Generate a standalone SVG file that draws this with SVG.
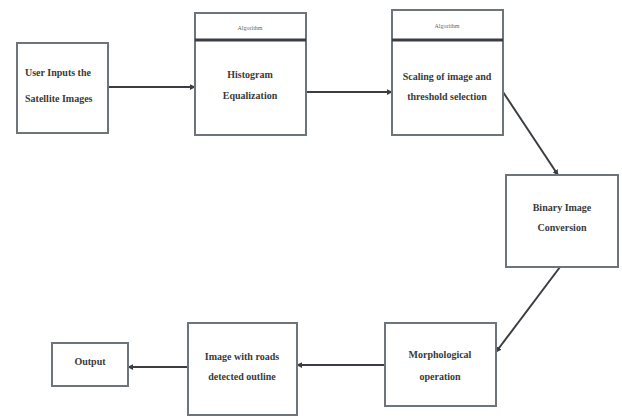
<svg xmlns="http://www.w3.org/2000/svg" width="622" height="417" viewBox="0 0 622 417">
<style>
.box{fill:#fff;stroke:#6e747c;stroke-width:2}
.hdr{stroke:#3a3d42;stroke-width:3}
.t{font-family:"Liberation Serif",serif;font-size:10px;font-weight:bold;fill:#3a3a3a;text-anchor:middle}
.h{font-family:"Liberation Serif",serif;font-size:6px;fill:#666;text-anchor:middle}
.c{stroke:#3a3d42;stroke-width:2;fill:none}
</style>
<defs>
<marker id="ah" viewBox="0 0 8 8" refX="7" refY="4" markerWidth="3" markerHeight="3" orient="auto" markerUnits="strokeWidth">
<path d="M0,0 L8,4 L0,8 z" fill="#3a3d42"/>
</marker>
</defs>
<rect width="622" height="417" fill="#fff"/>
<g id="connectors">
<line class="c" x1="108" y1="87" x2="195" y2="87" marker-end="url(#ah)"/>
<line class="c" x1="306" y1="92" x2="392" y2="92" marker-end="url(#ah)"/>
<line class="c" x1="503" y1="92" x2="558" y2="175" marker-end="url(#ah)"/>
<line class="c" x1="560" y1="267" x2="496" y2="352" marker-end="url(#ah)"/>
<line class="c" x1="385" y1="365" x2="297" y2="365" marker-end="url(#ah)"/>
<line class="c" x1="188" y1="367" x2="128" y2="367" marker-end="url(#ah)"/>
</g>
<g id="n1">
<rect class="box" x="17" y="43" width="91" height="90"/>
<text class="t" x="25" y="76" style="text-anchor:start">User Inputs the</text>
<text class="t" x="25" y="102" style="text-anchor:start">Satellite Images</text>
</g>
<g id="n2">
<rect class="box" x="195" y="13" width="111" height="122"/>
<line class="hdr" x1="195" y1="40" x2="306" y2="40"/>
<text class="h" x="250" y="30">Algorithm</text>
<text class="t" x="250" y="78">Histogram</text>
<text class="t" x="250" y="99">Equalization</text>
</g>
<g id="n3">
<rect class="box" x="392" y="10" width="111" height="125"/>
<line class="hdr" x1="392" y1="40" x2="503" y2="40"/>
<text class="h" x="447" y="28">Algorithm</text>
<text class="t" x="447" y="80">Scaling of image and</text>
<text class="t" x="447" y="100">threshold selection</text>
</g>
<g id="n4">
<rect class="box" x="506" y="175" width="112" height="92"/>
<text class="t" x="562" y="211">Binary Image</text>
<text class="t" x="562" y="231">Conversion</text>
</g>
<g id="n5">
<rect class="box" x="385" y="323" width="111" height="83"/>
<text class="t" x="440" y="358">Morphological</text>
<text class="t" x="440" y="380">operation</text>
</g>
<g id="n6">
<rect class="box" x="188" y="323" width="109" height="92"/>
<text class="t" x="242" y="360">Image with roads</text>
<text class="t" x="242" y="380">detected outline</text>
</g>
<g id="n7">
<rect class="box" x="52" y="343" width="76" height="43"/>
<text class="t" x="90" y="365">Output</text>
</g>
</svg>
